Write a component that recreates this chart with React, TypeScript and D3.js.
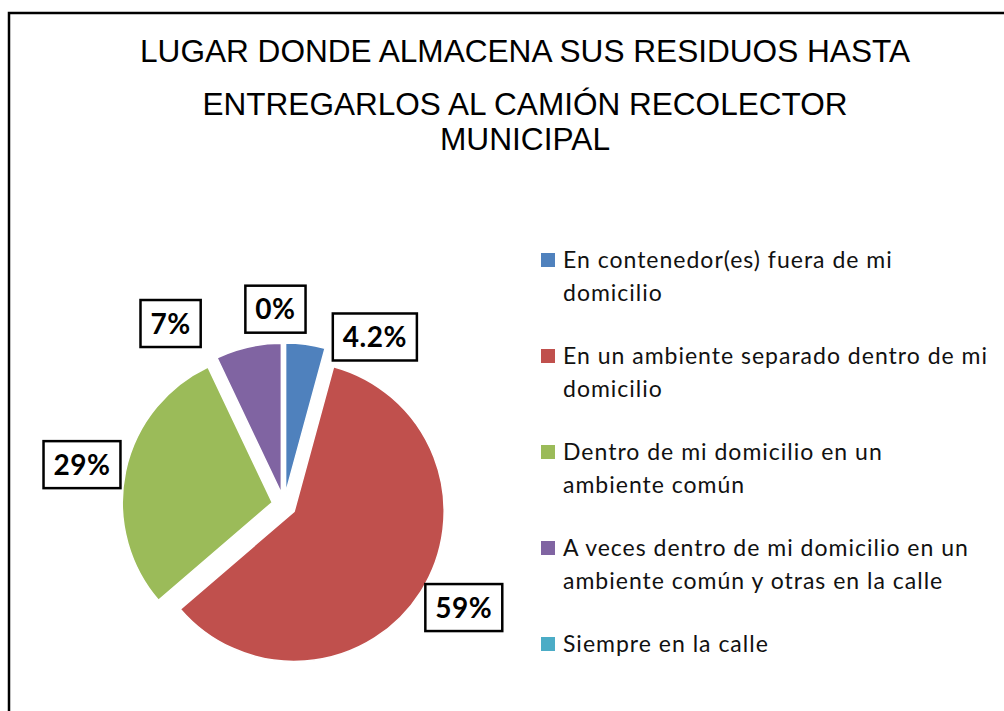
import React, { useEffect, useRef } from 'react';
import * as d3 from 'd3';

const titleLines = [
  'LUGAR DONDE ALMACENA SUS RESIDUOS HASTA',
  'ENTREGARLOS AL CAMIÓN RECOLECTOR',
  'MUNICIPAL',
];
const categories = [
  'En contenedor(es) fuera de mi domicilio',
  'En un ambiente separado dentro de mi domicilio',
  'Dentro de mi domicilio en un ambiente común',
  'A veces dentro de mi domicilio en un ambiente común y otras en la calle',
  'Siempre en la calle',
];
const legendLines = [
  ['En contenedor(es) fuera de mi', 'domicilio'],
  ['En un ambiente separado dentro de mi', 'domicilio'],
  ['Dentro de mi domicilio en un', 'ambiente común'],
  ['A veces dentro de mi domicilio en un', 'ambiente común y otras en la calle'],
  ['Siempre en la calle'],
];
const values = [4.2, 59, 29, 7, 0];
const valueLabels = ['4.2%', '59%', '29%', '7%', '0%'];
const colors = ['#4F81BD', '#C0504D', '#9BBB59', '#8064A2', '#4BACC6'];

// layout (not data)
const W = 1004;
const H = 711;
const CX = 284;
const CY = 505;
const R = 150;
const EXPLODE = 12;
const labelPlacement = [
  { angle: 28.4, dist: 191 },
  { angle: 119.7, dist: 207 },
  { angle: 281.3, dist: 206 },
  { angle: -32, dist: 214 },
  { angle: -2.5, dist: 196 },
];
const titleLayout = [
  { y: 62, len: 770 },
  { y: 115, len: 645 },
  { y: 150, len: 170 },
];

export default function App() {
  const ref = useRef<SVGSVGElement>(null);

  useEffect(() => {
    const svg = d3.select(ref.current);
    svg.selectAll('*').remove();

    svg.append('rect').attr('x', 0).attr('y', 0).attr('width', W).attr('height', H).attr('fill', '#fff');
    svg.append('rect')
      .attr('x', 9).attr('y', 13).attr('width', W + 20).attr('height', H + 20)
      .attr('fill', 'none').attr('stroke', '#000').attr('stroke-width', 2.5);

    // title
    const tg = svg.append('g');
    titleLines.forEach((t, i) => {
      tg.append('text')
        .attr('x', 525).attr('y', titleLayout[i].y)
        .attr('text-anchor', 'middle')
        .attr('font-family', '"Liberation Sans", Arial, sans-serif')
        .attr('font-size', 32)
        .attr('textLength', titleLayout[i].len)
        .attr('lengthAdjust', 'spacingAndGlyphs')
        .attr('fill', '#000')
        .text(t);
    });

    // pie
    const pie = d3.pie<number>().sort(null).value((d) => d).startAngle(0).endAngle(2 * Math.PI);
    const arcs = pie(values);
    const arc = d3.arc<d3.PieArcDatum<number>>().innerRadius(0).outerRadius(R);
    const pg = svg.append('g').attr('transform', `translate(${CX},${CY})`);
    pg.selectAll('path.slice')
      .data(arcs)
      .join('path')
      .attr('class', 'slice')
      .attr('transform', (d) => {
        const m = (d.startAngle + d.endAngle) / 2;
        return `translate(${EXPLODE * Math.sin(m)},${-EXPLODE * Math.cos(m)})`;
      })
      .attr('d', (d) => arc(d) as string)
      .attr('fill', (d, i) => colors[i])
      .attr('stroke', '#fff')
      .attr('stroke-width', 1.5)
      .attr('stroke-linejoin', 'round');

    // labels
    const lg = svg.append('g');
    arcs.forEach((d, i) => {
      const p = labelPlacement[i];
      const a = (p.angle * Math.PI) / 180;
      const x = CX + p.dist * Math.sin(a);
      const y = CY - p.dist * Math.cos(a);
      const g = lg.append('g').attr('transform', `translate(${x},${y})`);
      const rect = g.append('rect');
      const txt = g.append('text')
        .attr('x', 0).attr('y', 10)
        .attr('text-anchor', 'middle')
        .attr('font-family', 'Lato, "Open Sans", sans-serif')
        .attr('font-weight', 700)
        .attr('font-size', 28)
        .attr('letter-spacing', 0.5)
        .attr('fill', '#000')
        .text(valueLabels[i]);
      const w = (txt.node() as SVGTextElement).getComputedTextLength() + 20;
      const h = 47;
      rect.attr('x', -w / 2).attr('y', -h / 2).attr('width', w).attr('height', h)
        .attr('fill', '#fff').attr('stroke', '#000').attr('stroke-width', 2.5);
    });

    // legend
    const leg = svg.append('g');
    legendLines.forEach((lines, i) => {
      const baseY = 268 + i * 96;
      leg.append('rect')
        .attr('x', 541).attr('y', baseY - 15).attr('width', 14).attr('height', 14)
        .attr('fill', colors[i]);
      lines.forEach((ln, j) => {
        leg.append('text')
          .attr('x', 563).attr('y', baseY + j * 33)
          .attr('font-family', 'Lato, "Open Sans", sans-serif')
          .attr('font-size', 23)
          .attr('letter-spacing', 1)
          .attr('fill', '#111')
          .text(ln);
      });
    });
    leg.append('title').text(categories.join('; '));
  }, []);

  return (
    <svg
      ref={ref}
      width={W}
      height={H}
      style={{ position: 'absolute', left: 0, top: 0, display: 'block' }}
    />
  );
}
